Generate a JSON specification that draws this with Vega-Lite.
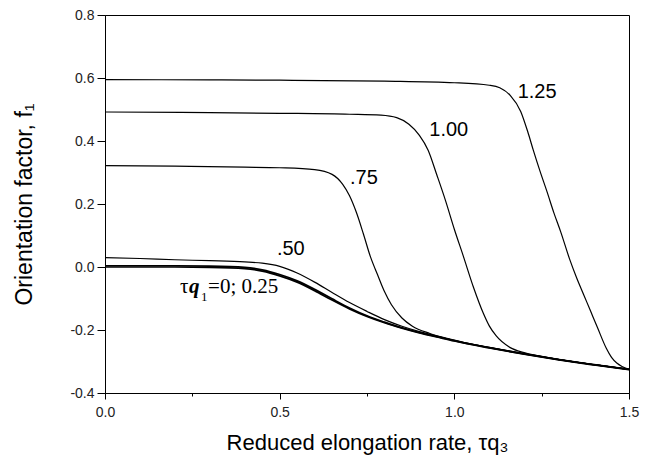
{
  "$schema": "https://vega.github.io/schema/vega-lite/v6.json",
  "width": 524,
  "height": 378,
  "autosize": {"type": "none"},
  "padding": {"left": 105, "top": 15, "right": 19, "bottom": 69},
  "background": "white",
  "config": {"view": {"stroke": "black", "strokeWidth": 1}, "font": "Liberation Sans"},
  "datasets": {
    "curves": [
      {"series": "0", "x": 0, "y": 0.0}, {"series": "0", "x": 0.1, "y": 0.0}, {"series": "0", "x": 0.2, "y": 0.0}, {"series": "0", "x": 0.3, "y": -0.001}, {"series": "0", "x": 0.4, "y": -0.005}, {"series": "0", "x": 0.45, "y": -0.013}, {"series": "0", "x": 0.5, "y": -0.028}, {"series": "0", "x": 0.55, "y": -0.048}, {"series": "0", "x": 0.6, "y": -0.075}, {"series": "0", "x": 0.65, "y": -0.105}, {"series": "0", "x": 0.7, "y": -0.133}, {"series": "0", "x": 0.75, "y": -0.157}, {"series": "0", "x": 0.8, "y": -0.177}, {"series": "0", "x": 0.85, "y": -0.194}, {"series": "0", "x": 0.9, "y": -0.209}, {"series": "0", "x": 0.95, "y": -0.222}, {"series": "0", "x": 1.0, "y": -0.235}, {"series": "0", "x": 1.1, "y": -0.257}, {"series": "0", "x": 1.2, "y": -0.277}, {"series": "0", "x": 1.3, "y": -0.295}, {"series": "0", "x": 1.4, "y": -0.311}, {"series": "0", "x": 1.5, "y": -0.326},
      {"series": "0.25", "x": 0, "y": 0.004}, {"series": "0.25", "x": 0.1, "y": 0.004}, {"series": "0.25", "x": 0.2, "y": 0.004}, {"series": "0.25", "x": 0.3, "y": 0.003}, {"series": "0.25", "x": 0.4, "y": -0.001}, {"series": "0.25", "x": 0.45, "y": -0.009}, {"series": "0.25", "x": 0.5, "y": -0.024}, {"series": "0.25", "x": 0.55, "y": -0.044}, {"series": "0.25", "x": 0.6, "y": -0.071}, {"series": "0.25", "x": 0.65, "y": -0.101}, {"series": "0.25", "x": 0.7, "y": -0.130}, {"series": "0.25", "x": 0.75, "y": -0.155}, {"series": "0.25", "x": 0.8, "y": -0.175}, {"series": "0.25", "x": 0.85, "y": -0.193}, {"series": "0.25", "x": 0.9, "y": -0.208}, {"series": "0.25", "x": 0.95, "y": -0.221}, {"series": "0.25", "x": 1.0, "y": -0.234}, {"series": "0.25", "x": 1.1, "y": -0.256}, {"series": "0.25", "x": 1.2, "y": -0.276}, {"series": "0.25", "x": 1.3, "y": -0.294}, {"series": "0.25", "x": 1.4, "y": -0.310}, {"series": "0.25", "x": 1.5, "y": -0.325},
      {"series": "0.50", "x": 0, "y": 0.030}, {"series": "0.50", "x": 0.1, "y": 0.027}, {"series": "0.50", "x": 0.2, "y": 0.023}, {"series": "0.50", "x": 0.3, "y": 0.020}, {"series": "0.50", "x": 0.4, "y": 0.016}, {"series": "0.50", "x": 0.45, "y": 0.012}, {"series": "0.50", "x": 0.5, "y": 0.002}, {"series": "0.50", "x": 0.55, "y": -0.019}, {"series": "0.50", "x": 0.6, "y": -0.048}, {"series": "0.50", "x": 0.65, "y": -0.081}, {"series": "0.50", "x": 0.7, "y": -0.113}, {"series": "0.50", "x": 0.75, "y": -0.141}, {"series": "0.50", "x": 0.8, "y": -0.167}, {"series": "0.50", "x": 0.85, "y": -0.188}, {"series": "0.50", "x": 0.9, "y": -0.205}, {"series": "0.50", "x": 0.95, "y": -0.219}, {"series": "0.50", "x": 1.0, "y": -0.233}, {"series": "0.50", "x": 1.1, "y": -0.256}, {"series": "0.50", "x": 1.2, "y": -0.276}, {"series": "0.50", "x": 1.3, "y": -0.294}, {"series": "0.50", "x": 1.4, "y": -0.310}, {"series": "0.50", "x": 1.5, "y": -0.325},
      {"series": "0.75", "x": 0, "y": 0.322}, {"series": "0.75", "x": 0.2, "y": 0.320}, {"series": "0.75", "x": 0.4, "y": 0.317}, {"series": "0.75", "x": 0.5, "y": 0.315}, {"series": "0.75", "x": 0.6, "y": 0.309}, {"series": "0.75", "x": 0.65, "y": 0.294}, {"series": "0.75", "x": 0.68, "y": 0.263}, {"series": "0.75", "x": 0.7, "y": 0.226}, {"series": "0.75", "x": 0.72, "y": 0.172}, {"series": "0.75", "x": 0.74, "y": 0.104}, {"series": "0.75", "x": 0.76, "y": 0.032}, {"series": "0.75", "x": 0.78, "y": -0.024}, {"series": "0.75", "x": 0.8, "y": -0.078}, {"series": "0.75", "x": 0.82, "y": -0.120}, {"series": "0.75", "x": 0.85, "y": -0.162}, {"series": "0.75", "x": 0.88, "y": -0.188}, {"series": "0.75", "x": 0.93, "y": -0.211}, {"series": "0.75", "x": 1.0, "y": -0.232}, {"series": "0.75", "x": 1.05, "y": -0.245}, {"series": "0.75", "x": 1.1, "y": -0.255}, {"series": "0.75", "x": 1.2, "y": -0.275}, {"series": "0.75", "x": 1.3, "y": -0.294}, {"series": "0.75", "x": 1.4, "y": -0.310}, {"series": "0.75", "x": 1.5, "y": -0.325},
      {"series": "1.00", "x": 0, "y": 0.492}, {"series": "1.00", "x": 0.3, "y": 0.490}, {"series": "1.00", "x": 0.5, "y": 0.488}, {"series": "1.00", "x": 0.7, "y": 0.485}, {"series": "1.00", "x": 0.79, "y": 0.482}, {"series": "1.00", "x": 0.835, "y": 0.474}, {"series": "1.00", "x": 0.87, "y": 0.453}, {"series": "1.00", "x": 0.9, "y": 0.418}, {"series": "1.00", "x": 0.925, "y": 0.371}, {"series": "1.00", "x": 0.95, "y": 0.292}, {"series": "1.00", "x": 0.975, "y": 0.210}, {"series": "1.00", "x": 1.0, "y": 0.120}, {"series": "1.00", "x": 1.025, "y": 0.037}, {"series": "1.00", "x": 1.055, "y": -0.065}, {"series": "1.00", "x": 1.083, "y": -0.147}, {"series": "1.00", "x": 1.1, "y": -0.187}, {"series": "1.00", "x": 1.12, "y": -0.219}, {"series": "1.00", "x": 1.16, "y": -0.256}, {"series": "1.00", "x": 1.2, "y": -0.272}, {"series": "1.00", "x": 1.25, "y": -0.284}, {"series": "1.00", "x": 1.3, "y": -0.294}, {"series": "1.00", "x": 1.4, "y": -0.310}, {"series": "1.00", "x": 1.5, "y": -0.325},
      {"series": "1.25", "x": 0, "y": 0.595}, {"series": "1.25", "x": 0.3, "y": 0.594}, {"series": "1.25", "x": 0.5, "y": 0.593}, {"series": "1.25", "x": 0.8, "y": 0.590}, {"series": "1.25", "x": 1.0, "y": 0.585}, {"series": "1.25", "x": 1.1, "y": 0.577}, {"series": "1.25", "x": 1.13, "y": 0.569}, {"series": "1.25", "x": 1.16, "y": 0.545}, {"series": "1.25", "x": 1.19, "y": 0.494}, {"series": "1.25", "x": 1.21, "y": 0.430}, {"series": "1.25", "x": 1.226, "y": 0.371}, {"series": "1.25", "x": 1.245, "y": 0.305}, {"series": "1.25", "x": 1.265, "y": 0.240}, {"series": "1.25", "x": 1.285, "y": 0.172}, {"series": "1.25", "x": 1.305, "y": 0.110}, {"series": "1.25", "x": 1.33, "y": 0.025}, {"series": "1.25", "x": 1.35, "y": -0.034}, {"series": "1.25", "x": 1.37, "y": -0.087}, {"series": "1.25", "x": 1.39, "y": -0.140}, {"series": "1.25", "x": 1.41, "y": -0.193}, {"series": "1.25", "x": 1.435, "y": -0.258}, {"series": "1.25", "x": 1.45, "y": -0.287}, {"series": "1.25", "x": 1.465, "y": -0.305}, {"series": "1.25", "x": 1.48, "y": -0.316}, {"series": "1.25", "x": 1.5, "y": -0.325}
    ],
    "labels": [
      {"label": "1.25", "x": 1.237, "y": 0.554},
      {"label": "1.00", "x": 0.984, "y": 0.435},
      {"label": ".75", "x": 0.741, "y": 0.282},
      {"label": ".50", "x": 0.532, "y": 0.057}
    ],
    "tq": [{"x": 0.215, "y": -0.082}]
  },
  "layer": [
    {
      "data": {"name": "curves"},
      "mark": {"type": "line", "interpolate": "monotone", "color": "black", "clip": true},
      "encoding": {
        "x": {
          "field": "x", "type": "quantitative",
          "scale": {"domain": [0, 1.5], "nice": false, "zero": false},
          "axis": {
            "values": [0, 0.25, 0.5, 0.75, 1, 1.25, 1.5],
            "labelExpr": "(datum.value*2) % 1 == 0 ? format(datum.value, '.1f') : ''",
            "tickSize": {"condition": {"test": "(datum.value*2) % 1 == 0", "value": 6}, "value": 3},
            "grid": false, "domainColor": "black", "tickColor": "black", "labelColor": "#222222",
            "labelFontSize": 14, "labelPadding": 6, "labelFlush": false, "labelFont": "Liberation Sans",
            "title": "Reduced elongation rate, τq₃", "titleFontSize": 22, "titleFontWeight": "normal",
            "titleColor": "black", "titlePadding": 13, "titleFont": "Liberation Sans"
          }
        },
        "y": {
          "field": "y", "type": "quantitative",
          "scale": {"domain": [-0.4, 0.8], "nice": false, "zero": false},
          "axis": {
            "values": [-0.4, -0.3, -0.2, -0.1, 0, 0.1, 0.2, 0.3, 0.4, 0.5, 0.6, 0.7, 0.8],
            "labelExpr": "abs(datum.value*5 - round(datum.value*5)) < 0.001 ? (datum.value < -0.001 ? '-' : '') + format(abs(datum.value), '.1f') : ''",
            "tickSize": {"condition": {"test": "abs(datum.value*5 - round(datum.value*5)) < 0.001", "value": 8}, "value": 4},
            "grid": false, "domainColor": "black", "tickColor": "black", "labelColor": "#222222",
            "labelFontSize": 14, "labelPadding": 3, "labelFlush": false, "labelFont": "Liberation Sans",
            "title": "Orientation factor, f₁", "titleFontSize": 23, "titleFontWeight": "normal",
            "titleColor": "black", "titlePadding": 33, "titleFont": "Liberation Sans"
          }
        },
        "detail": {"field": "series", "type": "nominal"},
        "strokeWidth": {"condition": {"test": "datum.series == '0' || datum.series == '0.25'", "value": 1.7}, "value": 1.2}
      }
    },
    {
      "data": {"name": "labels"},
      "mark": {"type": "text", "font": "Liberation Sans", "fontSize": 20, "align": "center", "baseline": "middle", "color": "black"},
      "encoding": {
        "x": {"field": "x", "type": "quantitative"},
        "y": {"field": "y", "type": "quantitative"},
        "text": {"field": "label", "type": "nominal"}
      }
    },
    {
      "data": {"name": "tq"},
      "mark": {"type": "text", "font": "Liberation Serif", "fontSize": 21, "align": "left", "baseline": "alphabetic", "color": "black", "text": "τ"},
      "encoding": {"x": {"field": "x", "type": "quantitative"}, "y": {"field": "y", "type": "quantitative"}}
    },
    {
      "data": {"name": "tq"},
      "mark": {"type": "text", "font": "Liberation Serif", "fontSize": 21, "fontStyle": "italic", "fontWeight": "bold", "align": "left", "baseline": "alphabetic", "color": "black", "text": "q", "dx": 9},
      "encoding": {"x": {"field": "x", "type": "quantitative"}, "y": {"field": "y", "type": "quantitative"}}
    },
    {
      "data": {"name": "tq"},
      "mark": {"type": "text", "font": "Liberation Serif", "fontSize": 13, "align": "left", "baseline": "alphabetic", "color": "black", "text": "1", "dx": 21, "dy": 8},
      "encoding": {"x": {"field": "x", "type": "quantitative"}, "y": {"field": "y", "type": "quantitative"}}
    },
    {
      "data": {"name": "tq"},
      "mark": {"type": "text", "font": "Liberation Serif", "fontSize": 21, "align": "left", "baseline": "alphabetic", "color": "black", "text": "=0; 0.25", "dx": 28},
      "encoding": {"x": {"field": "x", "type": "quantitative"}, "y": {"field": "y", "type": "quantitative"}}
    }
  ]
}
